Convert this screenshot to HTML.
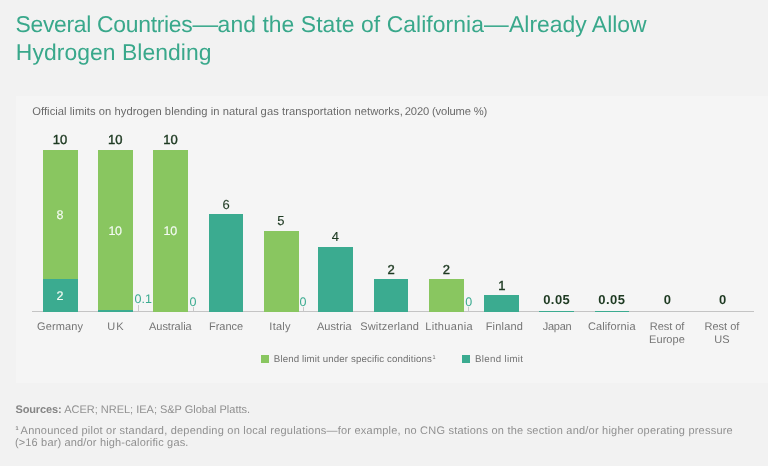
<!DOCTYPE html>
<html lang="en">
<head>
<meta charset="utf-8">
<title>Several Countries—and the State of California—Already Allow Hydrogen Blending</title>
<style>
html,body{margin:0;padding:0;}
body{width:768px;height:466px;overflow:hidden;background:#f2f2f2;font-family:"Liberation Sans",Arial,sans-serif;text-rendering:geometricPrecision;position:relative;}
div,span,b,h1,sup{position:absolute;white-space:nowrap;margin:0;padding:0;font-weight:400;}
h1{left:0;top:0;width:768px;height:70px;font-size:22.9px;line-height:30px;color:#39a88b;}
.panel{left:16px;top:95.8px;width:752px;height:287.6px;background:#f5f5f5;}
.sub{font-size:11.2px;line-height:15px;color:#6a6a6a;}
.axis{left:32px;top:310.8px;width:722px;height:1.3px;background:#c4c4c4;}
.bar i{right:0;top:0;bottom:0;width:2.2px;background:rgba(0,0,0,0.085);}
.tot{font-size:13px;line-height:17px;color:#1e3a22;}
.tot.s{-webkit-text-stroke:0.4px #1e3a22;}
.tot.r{-webkit-text-stroke:0.12px #1e3a22;}
.tot.b{font-weight:700;}
.in{font-size:12.5px;line-height:16px;color:#f4fbf3;-webkit-text-stroke:0.15px #f4fbf3;}
.sm{font-size:12.5px;line-height:16px;color:#3bab90;}
.tick{width:1px;background:#c8c8c8;}
.cat{font-size:11px;line-height:14px;color:#757575;}
.lg{font-size:9.7px;line-height:13px;color:#707070;}
.lgs{font-size:5.5px;line-height:7px;color:#707070;}
.sq{width:8.3px;height:8.2px;}
.ft{font-size:11px;line-height:14px;color:#909090;}
.ftb{font-size:11px;line-height:14px;color:#868686;font-weight:700;}
.fts{font-size:5.5px;line-height:7px;color:#868686;font-weight:700;}
</style>
</head>
<body>
<h1>
<span class="" style="left:15.50px;top:9px;letter-spacing:-0.297px;">Several Countries</span>
<span style="left:194.00px;top:9px;transform:scaleX(1.122)">—</span>
<span class="" style="left:217.60px;top:9px;letter-spacing:0.063px;">and the State of California</span>
<span style="left:485.10px;top:9px;transform:scaleX(1.078)">—</span>
<span class="" style="left:509.00px;top:9px;letter-spacing:0.017px;">Already Allow</span>
<span class="" style="left:15.85px;top:37px;letter-spacing:0.056px;">Hydrogen Blending</span>
</h1>
<div class="panel"></div>
<div class="sub" style="left:32.20px;top:105px;letter-spacing:0.060px;">Official limits on hydrogen blending in natural gas transportation networks,</div>
<div class="sub" style="left:404.80px;top:105px;letter-spacing:-0.150px;">2020 (volume %)</div>
<div class="axis"></div>
<div class="bar" style="left:43.0px;top:279.20px;width:34.75px;height:32.40px;background:#3bab90"><i></i></div>
<div class="bar" style="left:43.0px;top:149.60px;width:34.75px;height:129.60px;background:#89c660"><i></i></div>
<div class="bar" style="left:98.0px;top:309.98px;width:34.75px;height:1.62px;background:#3bab90"><i></i></div>
<div class="bar" style="left:98.0px;top:149.60px;width:34.75px;height:160.38px;background:#89c660"><i></i></div>
<div class="bar" style="left:153.4px;top:149.60px;width:34.75px;height:162.00px;background:#89c660"><i></i></div>
<div class="bar" style="left:208.5px;top:214.40px;width:34.75px;height:97.20px;background:#3bab90"><i></i></div>
<div class="bar" style="left:263.9px;top:230.60px;width:34.75px;height:81.00px;background:#89c660"><i></i></div>
<div class="bar" style="left:318.4px;top:246.80px;width:34.75px;height:64.80px;background:#3bab90"><i></i></div>
<div class="bar" style="left:373.6px;top:279.20px;width:34.75px;height:32.40px;background:#3bab90"><i></i></div>
<div class="bar" style="left:429.0px;top:279.20px;width:34.75px;height:32.40px;background:#89c660"><i></i></div>
<div class="bar" style="left:484.0px;top:295.40px;width:34.75px;height:16.20px;background:#3bab90"><i></i></div>
<div class="bar" style="left:539.0px;top:310.63px;width:34.75px;height:0.97px;background:#3bab90"><i></i></div>
<div class="bar" style="left:594.5px;top:310.63px;width:34.75px;height:0.97px;background:#3bab90"><i></i></div>
<div class="tot s" style="left:52.75px;top:131px;letter-spacing:0.100px;">10</div>
<div class="tot s" style="left:107.95px;top:131px;letter-spacing:0.100px;">10</div>
<div class="tot s" style="left:163.25px;top:131px;letter-spacing:0.100px;">10</div>
<div class="tot r" style="left:222.47px;top:196px;">6</div>
<div class="tot r" style="left:277.27px;top:212px;">5</div>
<div class="tot r" style="left:331.77px;top:228px;">4</div>
<div class="tot s" style="left:387.48px;top:261px;">2</div>
<div class="tot s" style="left:442.68px;top:261px;">2</div>
<div class="tot s" style="left:498.15px;top:277px;">1</div>
<div class="tot b" style="left:543.20px;top:291px;letter-spacing:0.433px;">0.05</div>
<div class="tot b" style="left:598.35px;top:291px;letter-spacing:0.467px;">0.05</div>
<div class="tot b" style="left:663.77px;top:291px;">0</div>
<div class="tot b" style="left:718.98px;top:291px;">0</div>
<div class="in" style="left:56.50px;top:207px;">8</div>
<div class="in" style="left:56.50px;top:288px;">2</div>
<div class="in" style="left:108.60px;top:223px;letter-spacing:-0.450px;">10</div>
<div class="in" style="left:163.60px;top:223px;letter-spacing:-0.250px;">10</div>
<div class="sm" style="left:134.50px;top:291px;letter-spacing:0.075px;">0.1</div>
<div class="sm" style="left:189.50px;top:294px;">0</div>
<div class="sm" style="left:299.50px;top:294px;">0</div>
<div class="sm" style="left:465.20px;top:294px;">0</div>
<div class="tick" style="left:137.6px;top:304.7px;height:6.4px"></div>
<div class="tick" style="left:193.1px;top:307.3px;height:3.8px"></div>
<div class="tick" style="left:302.6px;top:307.3px;height:3.8px"></div>
<div class="tick" style="left:468.2px;top:307.3px;height:3.8px"></div>
<div class="cat" style="left:37.00px;top:320px;letter-spacing:0.108px;">Germany</div>
<div class="cat" style="left:107.30px;top:320px;letter-spacing:1.050px;">UK</div>
<div class="cat" style="left:148.95px;top:320px;letter-spacing:-0.006px;">Australia</div>
<div class="cat" style="left:208.95px;top:320px;">France</div>
<div class="cat" style="left:269.35px;top:320px;letter-spacing:0.262px;">Italy</div>
<div class="cat" style="left:316.95px;top:320px;letter-spacing:0.075px;">Austria</div>
<div class="cat" style="left:360.15px;top:320px;letter-spacing:0.195px;">Switzerland</div>
<div class="cat" style="left:425.20px;top:320px;letter-spacing:0.338px;">Lithuania</div>
<div class="cat" style="left:485.65px;top:320px;letter-spacing:0.208px;">Finland</div>
<div class="cat" style="left:542.75px;top:320px;letter-spacing:-0.250px;">Japan</div>
<div class="cat" style="left:587.90px;top:320px;letter-spacing:0.133px;">California</div>
<div class="cat" style="left:649.85px;top:320px;letter-spacing:-0.075px;">Rest of</div>
<div class="cat" style="left:649.10px;top:333px;letter-spacing:0.050px;">Europe</div>
<div class="cat" style="left:704.55px;top:320px;letter-spacing:-0.008px;">Rest of</div>
<div class="cat" style="left:714.25px;top:333px;">US</div>
<div class="sq" style="left:260.8px;top:354.9px;background:#89c660"></div>
<div class="lg" style="left:273.85px;top:353px;letter-spacing:0.125px;">Blend limit under specific conditions</div>
<sup class="lgs" style="left:432.58px;top:355px;">1</sup>
<div class="sq" style="left:462px;top:354.9px;background:#3bab90"></div>
<div class="lg" style="left:475.05px;top:353px;letter-spacing:0.320px;">Blend limit</div>
<b class="ftb" style="left:15.50px;top:403px;letter-spacing:-0.143px;">Sources:</b>
<div class="ft" style="left:64.25px;top:403px;letter-spacing:-0.015px;">ACER; NREL; IEA; S&amp;P Global Platts.</div>
<sup class="fts" style="left:15.52px;top:426px;">1</sup>
<div class="ft" style="left:20.60px;top:424px;letter-spacing:0.220px;">Announced pilot or standard, depending on local regulations—for example, no CNG stations on the section and/or higher operating pressure</div>
<div class="ft" style="left:14.95px;top:436px;letter-spacing:0.160px;">(&gt;16 bar) and/or high-calorific gas.</div>
</body>
</html>
